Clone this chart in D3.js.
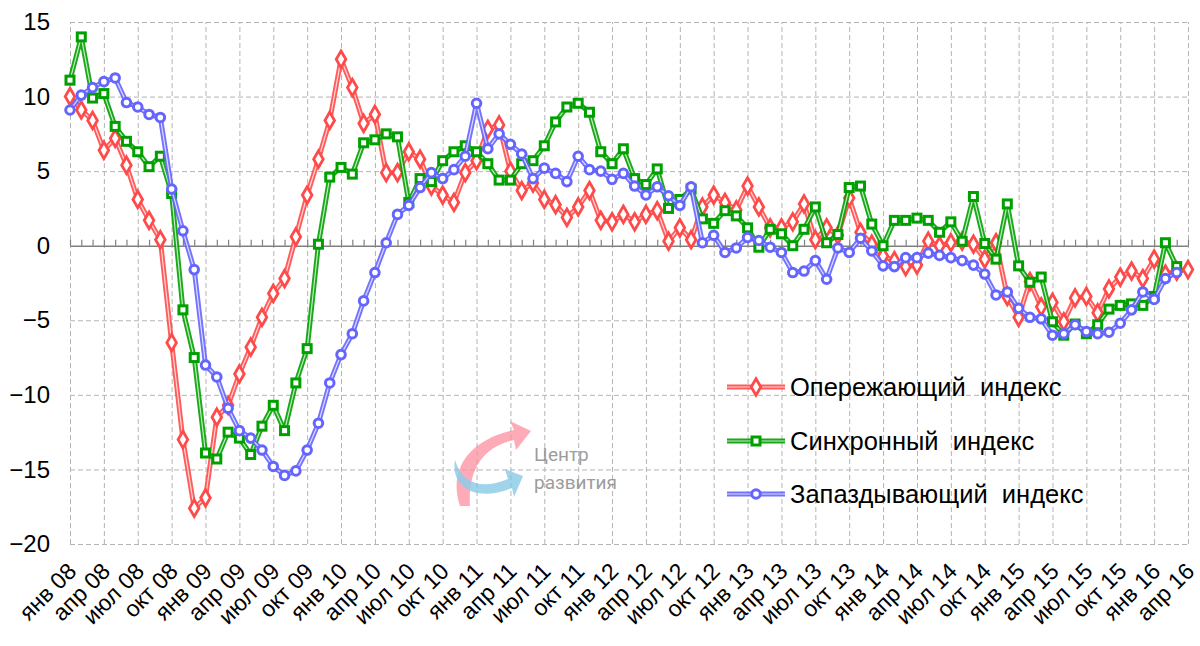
<!DOCTYPE html>
<html><head><meta charset="utf-8">
<script src="https://cdn.jsdelivr.net/npm/d3@7"></script>
<style>
html,body{margin:0;padding:0;background:#fff;}
svg{display:block;font-family:"Liberation Sans",Arial,sans-serif;}
</style></head>
<body>
<svg id="chart" width="1200" height="646"></svg>
<script>
// ---- data ----
const tickLabels = ["янв 08","апр 08","июл 08","окт 08","янв 09","апр 09","июл 09","окт 09",
  "янв 10","апр 10","июл 10","окт 10","янв 11","апр 11","июл 11","окт 11",
  "янв 12","апр 12","июл 12","окт 12","янв 13","апр 13","июл 13","окт 13",
  "янв 14","апр 14","июл 14","окт 14","янв 15","апр 15","июл 15","окт 15",
  "янв 16","апр 16"];
const monthCount = 100; // янв 08 … апр 16
const yTicks = [15,10,5,0,-5,-10,-15,-20];

const leading = [10.0,9.1,8.4,6.4,7.2,5.4,3.1,1.7,0.4,-6.5,
  -13.0,-17.6,-16.9,-11.5,-10.7,-8.6,-6.8,-4.8,-3.2,-2.2,
  0.6,3.4,5.8,8.4,12.5,10.6,8.2,8.8,4.9,4.9,
  6.3,5.8,4.0,3.4,2.9,4.9,5.7,7.8,8.1,5.0,
  3.7,4.2,3.1,2.75,1.9,2.6,3.7,1.7,1.6,2.1,
  1.6,2.1,2.35,0.3,1.2,0.4,2.6,3.4,2.9,2.4,
  4.0,2.6,1.2,1.2,1.6,2.8,0.4,1.2,0.7,3.2,
  0.9,0.1,-0.7,-1.0,-1.4,-1.3,0.3,0.0,0.2,0.3,
  0.1,-0.9,0.2,-3.4,-4.8,-2.4,-4.1,-3.8,-5.1,-3.5,
  -3.4,-4.5,-2.9,-2.1,-1.7,-2.2,-0.9,-1.9,-1.7,-1.6];

const coincident = [11.1,14.0,9.9,10.2,8.0,7.0,6.3,5.3,6.0,3.5,
  -4.3,-7.5,-13.9,-14.3,-12.5,-12.9,-14.0,-12.1,-10.7,-12.4,
  -9.2,-6.9,0.1,4.6,5.25,4.8,6.9,7.1,7.5,7.3,
  2.9,4.5,4.3,5.7,6.3,6.7,6.3,5.5,4.4,4.4,
  5.5,5.7,6.7,8.3,9.3,9.55,8.95,6.3,5.5,6.5,
  4.5,4.1,5.15,2.5,3.1,3.8,1.8,1.5,2.35,2.0,
  1.2,-0.1,1.1,0.8,0.0,1.1,2.6,0.2,0.75,3.9,
  4.0,1.45,0.0,1.7,1.7,1.85,1.7,0.9,1.6,0.3,
  3.3,0.15,-0.9,2.8,-1.35,-2.45,-2.1,-5.1,-6.0,-5.25,
  -5.9,-5.3,-4.25,-4.0,-3.9,-4.0,-3.4,0.2,-1.4];

const lagging = [9.1,10.1,10.6,11.0,11.25,9.6,9.3,8.8,8.6,3.8,
  1.0,-1.6,-8.0,-8.8,-10.9,-12.4,-12.9,-13.7,-14.8,-15.4,
  -15.1,-13.7,-11.9,-9.2,-7.3,-5.9,-3.7,-1.8,0.2,2.1,
  2.7,3.9,4.9,4.5,5.1,6.0,9.55,6.5,7.5,6.8,
  6.15,4.5,5.2,4.85,4.3,6.0,5.1,5.0,4.45,4.85,
  4.0,3.4,3.95,3.35,2.7,3.95,0.2,0.7,-0.45,-0.15,
  0.55,0.35,-0.1,-0.45,-1.8,-1.7,-1.0,-2.25,-0.15,-0.45,
  0.5,-0.35,-1.35,-1.4,-0.8,-0.8,-0.5,-0.65,-0.8,-1.0,
  -1.3,-1.9,-3.3,-3.1,-4.2,-4.8,-4.9,-6.0,-5.9,-5.3,
  -5.75,-5.9,-5.8,-5.2,-4.3,-3.1,-3.6,-2.2,-1.8];

const seriesNames = ["Опережающий  индекс","Синхронный  индекс","Запаздывающий  индекс"];
const seriesColors = ["#ff4a4a","#00a000","#6464ff"];
const seriesMarkers = ["diamond","square","circle"];
const seriesData = [leading, coincident, lagging];

// ---- layout ----
const svg = d3.select("#chart");
const L = 70, R = 1188, T = 22, B = 544;
const x = d3.scalePoint().domain(d3.range(monthCount)).range([L, R]);
const y = d3.scaleLinear().domain([-20, 15]).range([B, T]);
const quarterIdx = tickLabels.map((_, k) => k * 3);

// vertical gridlines
const gx = svg.append("g").attr("transform", `translate(0,${B})`)
  .call(d3.axisBottom(x).tickValues(quarterIdx).tickSize(-(B - T)).tickFormat(""));
gx.select(".domain").remove();
gx.selectAll("line").attr("stroke", "#b4b4b4").attr("stroke-width", 1).attr("stroke-dasharray", "5,3");

// horizontal gridlines
const gy = svg.append("g").attr("transform", `translate(${L},0)`)
  .call(d3.axisLeft(y).tickValues(yTicks.filter(v => v !== 0)).tickSize(-(R - L)).tickFormat(""));
gy.select(".domain").remove();
gy.selectAll("line").attr("stroke", "#b4b4b4").attr("stroke-width", 1).attr("stroke-dasharray", "5,3");

// y labels
const yl = svg.append("g").attr("transform", `translate(${L - 20},0)`)
  .call(d3.axisLeft(y).tickValues(yTicks).tickSize(0).tickPadding(0).tickFormat(d3.format("d")));
yl.select(".domain").remove();
yl.selectAll("text").attr("font-size", 24).attr("fill", "#000")
  .attr("font-family", "Liberation Sans, Arial, sans-serif");

// zero axis with monthly ticks
const zx = svg.append("g").attr("transform", `translate(0,${y(0)})`)
  .call(d3.axisTop(x).tickValues(d3.range(monthCount)).tickSize(6).tickSizeOuter(0).tickFormat(""));
zx.select(".domain").attr("stroke", "#808080").attr("stroke-width", 1.5);
zx.selectAll("line").attr("stroke", "#808080").attr("stroke-width", 1.2);

// x labels
const xl = svg.append("g").attr("transform", `translate(0,${B})`)
  .call(d3.axisBottom(x).tickValues(quarterIdx).tickSize(0)
    .tickFormat((d) => tickLabels[d / 3]));
xl.select(".domain").remove();
xl.selectAll("text")
  .attr("font-size", 23).attr("fill", "#000")
  .attr("font-family", "Liberation Sans, Arial, sans-serif")
  .attr("text-anchor", "end")
  .attr("dy", "0.35em").attr("y", 0)
  .attr("transform", "translate(1.5,23) rotate(-45)");

// watermark logo
const wm = svg.append("g").attr("opacity", 0.85);
wm.append("path")
  .attr("d", "M460,506 C448,470 468,440 514,430 L510,421 L531,431 L516,450 L514,440 C482,447 468,470 470,506 Z")
  .attr("fill", "#ff8c9c").attr("opacity", 0.85);
wm.append("path")
  .attr("d", "M455,460 C450,490 480,502 512,488 L514,497 L523,476 L505,469 L508,479 C482,490 462,484 455,460 Z")
  .attr("fill", "#7cc4e4").attr("opacity", 0.85);
wm.append("text").attr("x", 534).attr("y", 461).text("Центр")
  .attr("font-size", 19).attr("fill", "#8c8c8c").attr("font-family", "Roboto, sans-serif");
wm.append("text").attr("x", 534).attr("y", 489).text("развития")
  .attr("font-size", 19).attr("fill", "#8c8c8c").attr("font-family", "Roboto, sans-serif");

// series
const line = d3.line().x((d, i) => x(i)).y(d => y(d));
function marker(g, type, cx, cy, color) {
  if (type === "diamond") {
    g.append("path").attr("d", d3.symbol(d3.symbolDiamond, 80)())
      .attr("transform", `translate(${cx},${cy})`)
      .attr("fill", "#fff").attr("stroke", color).attr("stroke-width", 2.8);
  } else if (type === "square") {
    g.append("rect").attr("x", cx - 4).attr("y", cy - 4).attr("width", 8).attr("height", 8)
      .attr("fill", "#fff").attr("stroke", color).attr("stroke-width", 3);
  } else {
    g.append("circle").attr("cx", cx).attr("cy", cy).attr("r", 4.3)
      .attr("fill", "#fff").attr("stroke", color).attr("stroke-width", 3);
  }
}
seriesData.forEach((data, s) => {
  const g = svg.append("g");
  const c = seriesColors[s];
  g.append("path").datum(data).attr("d", line).attr("fill", "none")
    .attr("stroke", c).attr("stroke-width", 5).attr("stroke-linejoin", "round").attr("opacity", 0.9);
  g.append("path").datum(data).attr("d", line).attr("fill", "none")
    .attr("stroke", "#fff").attr("stroke-width", 1.2).attr("stroke-linejoin", "round").attr("opacity", 0.75);
  data.forEach((v, i) => marker(g, seriesMarkers[s], x(i), y(v), c));
});

// legend
const legY = [387, 441, 494];
seriesNames.forEach((name, s) => {
  const g = svg.append("g").attr("transform", `translate(0,${legY[s]})`);
  const c = seriesColors[s];
  g.append("line").attr("x1", 727).attr("x2", 785).attr("y1", 0).attr("y2", 0)
    .attr("stroke", c).attr("stroke-width", 5).attr("opacity", 0.9);
  g.append("line").attr("x1", 727).attr("x2", 785).attr("y1", 0).attr("y2", 0)
    .attr("stroke", "#fff").attr("stroke-width", 1.2).attr("opacity", 0.75);
  marker(g, seriesMarkers[s], 756, 0, c);
  g.append("text").attr("x", 790).attr("y", 0).attr("dy", "0.35em").text(name)
    .attr("font-size", 25.5).attr("fill", "#000").attr("xml:space", "preserve")
    .style("white-space", "pre");
});
</script>
</body></html>
